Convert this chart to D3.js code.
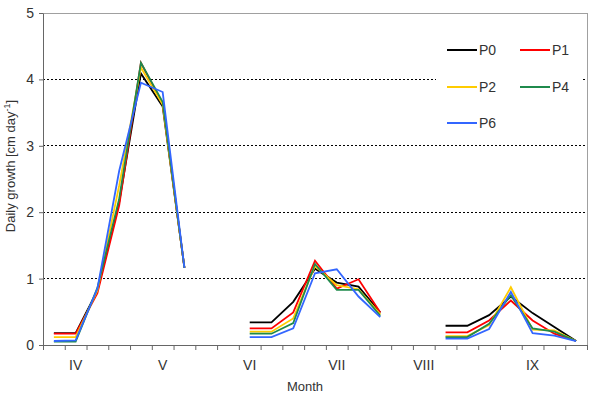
<!DOCTYPE html>
<html>
<head>
<meta charset="utf-8">
<script src="https://cdn.jsdelivr.net/npm/d3@7/dist/d3.min.js"></script>
<style>
  html, body { margin: 0; padding: 0; background: #fff; }
  svg { display: block; font-family: "Liberation Sans", Arial, sans-serif; }
</style>
</head>
<body>
<svg id="chart" width="600" height="396"></svg>
<script>
// ---- data ----
const nCategories = 25;
const monthLabels = ["IV", "V", "VI", "VII", "VIII", "IX"];
const monthPositions = [1, 5, 9, 13, 17, 22];
const yTicks = [0, 1, 2, 3, 4, 5];
const seriesNames = ["P0", "P1", "P2", "P4", "P6"];
const seriesColors = ["#000000", "#ff0000", "#ffcc00", "#1f8a4c", "#3366ff"];
const P0 = [0.18, 0.18, 0.82, 2.15, 4.09, 3.59, 1.16, null, null, 0.34, 0.34, 0.65, 1.15, 0.94, 0.88, 0.49, null, null, 0.29, 0.29, 0.45, 0.73, 0.48, 0.27, 0.06];
const P1 = [0.17, 0.17, 0.78, 2.10, 4.25, 3.63, 1.16, null, null, 0.25, 0.25, 0.49, 1.27, 0.85, 0.99, 0.49, null, null, 0.19, 0.19, 0.37, 0.67, 0.37, 0.17, 0.06];
const P2 = [0.12, 0.12, 0.82, 2.40, 4.18, 3.62, 1.16, null, null, 0.20, 0.20, 0.40, 1.19, 0.90, 0.84, 0.46, null, null, 0.135, 0.135, 0.30, 0.87, 0.23, 0.22, 0.06];
const P4 = [0.05, 0.05, 0.86, 2.20, 4.25, 3.66, 1.16, null, null, 0.17, 0.17, 0.33, 1.22, 0.83, 0.83, 0.44, null, null, 0.12, 0.12, 0.32, 0.75, 0.25, 0.20, 0.06];
const P6 = [0.06, 0.07, 0.85, 2.62, 3.95, 3.81, 1.16, null, null, 0.12, 0.12, 0.25, 1.08, 1.14, 0.73, 0.42, null, null, 0.095, 0.095, 0.24, 0.80, 0.18, 0.14, 0.06];
const seriesValues = [P0, P1, P2, P4, P6];

// ---- layout ----
const svg = d3.select("#chart");
const L = 43, R = 587, T = 13, B = 345;

const x = d3.scaleBand().domain(d3.range(nCategories)).range([L, R]).padding(0);
const xEdge = d3.scaleLinear().domain([0, nCategories]).range([L, R]);
const y = d3.scaleLinear().domain([0, 5]).range([B, T]);
const cx = i => x(i) + x.bandwidth() / 2;
const textColor = "#333";

// gridlines (dashed)
svg.append("g").selectAll("line").data(yTicks.filter(v => v > 0 && v < 5)).join("line")
  .attr("x1", L).attr("x2", R)
  .attr("y1", d => y(d)).attr("y2", d => y(d))
  .attr("stroke", "#000").attr("stroke-width", 1)
  .attr("stroke-dasharray", "2,2")
  .attr("shape-rendering", "crispEdges");

// plot frame top & right
svg.append("line").attr("x1", L).attr("x2", R).attr("y1", y(5)).attr("y2", y(5))
  .attr("stroke", "#a0a0a0").attr("shape-rendering", "crispEdges");
svg.append("line").attr("x1", R).attr("x2", R).attr("y1", y(5)).attr("y2", y(0))
  .attr("stroke", "#a0a0a0").attr("shape-rendering", "crispEdges");

// y axis
const yAxis = svg.append("g").attr("transform", `translate(${L},0)`)
  .call(d3.axisLeft(y).tickValues(yTicks).tickFormat(d3.format("d")).tickSize(4).tickPadding(5).tickSizeOuter(0));
yAxis.select(".domain").attr("stroke", "#666");
yAxis.selectAll(".tick line").attr("stroke", "#666");
yAxis.selectAll("text").attr("font-size", 14).attr("fill", textColor)
  .attr("font-family", "Liberation Sans, Arial, sans-serif");

// x axis
const xAxis = svg.append("g").attr("transform", `translate(0,${B})`)
  .call(d3.axisBottom(xEdge).tickValues(d3.range(nCategories + 1)).tickFormat("").tickSize(5).tickSizeOuter(0));
xAxis.select(".domain").attr("stroke", "#666");
xAxis.selectAll(".tick line").attr("stroke", "#666");

// month labels
svg.append("g").selectAll("text").data(monthLabels).join("text")
  .attr("x", (d, i) => cx(monthPositions[i]))
  .attr("y", 370)
  .attr("text-anchor", "middle")
  .attr("font-size", 14).attr("fill", textColor)
  .text(d => d);

// axis titles
svg.append("text").attr("x", 305).attr("y", 391).attr("text-anchor", "middle")
  .attr("font-size", 13).attr("fill", textColor).text("Month");

const yt = svg.append("text")
  .attr("transform", "translate(15,166) rotate(-90)")
  .attr("text-anchor", "middle").attr("font-size", 13).attr("fill", textColor);
yt.append("tspan").text("Daily growth [cm day");
yt.append("tspan").attr("dy", -5).attr("font-size", 9).text("-1");
yt.append("tspan").attr("dy", 5).text("]");

// lines
const line = d3.line()
  .defined(d => d.v !== null)
  .x(d => cx(d.i))
  .y(d => y(d.v));

seriesValues.forEach((vals, s) => {
  svg.append("path")
    .datum(vals.map((v, i) => ({ i, v })))
    .attr("d", line)
    .attr("fill", "none")
    .attr("stroke", seriesColors[s])
    .attr("stroke-width", 1.8)
    .attr("stroke-linejoin", "miter");
});

// legend
svg.append("rect").attr("x", 436).attr("y", 33).attr("width", 146).attr("height", 106)
  .attr("fill", "#fff");
const legendPos = [[447, 50], [520, 50], [447, 87], [520, 87], [447, 123]];
seriesNames.forEach((name, s) => {
  const [lx, ly] = legendPos[s];
  svg.append("line").attr("x1", lx).attr("x2", lx + 30).attr("y1", ly).attr("y2", ly)
    .attr("stroke", seriesColors[s]).attr("stroke-width", 2);
  svg.append("text").attr("x", lx + 32).attr("y", ly + 5)
    .attr("font-size", 14).attr("fill", textColor).text(name);
});
</script>
</body>
</html>
